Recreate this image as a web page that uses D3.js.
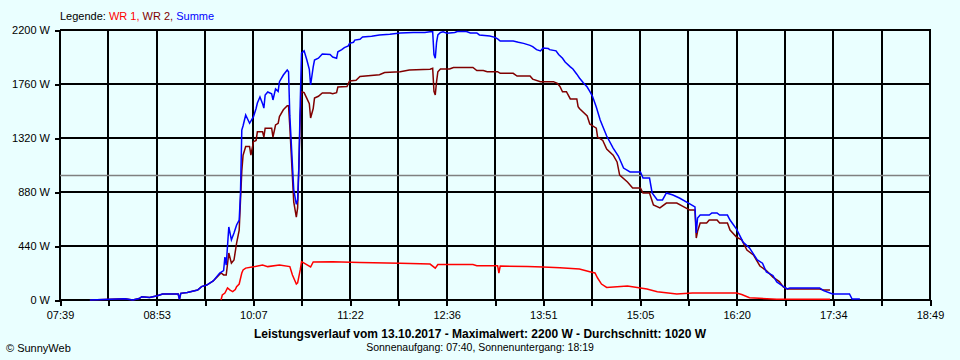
<!DOCTYPE html>
<html>
<head>
<meta charset="utf-8">
<script src="https://cdn.jsdelivr.net/npm/d3@7"></script>
<style>
  body { margin: 0; background: #eaffff; }
  svg { display: block; font-family: "Liberation Sans", Arial, sans-serif; }
</style>
</head>
<body>
<script>
var summe = [
  ["08:02",0],["08:29",10],["08:35",0],["08:40",12],["08:42",27],["08:48",20],["08:54",35],["08:58",49],
  ["09:10",49],["09:11",5],["09:12",54],["09:17",62],["09:25",81],["09:28",109],["09:32",122],["09:37",155],
  ["09:42",220],["09:45",240],["09:46",350],["09:47",285],["09:49",595],["09:51",490],["09:53",546],["09:55",611],
  ["09:57",650],["09:58",870],["09:59",1385],["10:00",1420],["10:02",1507],["10:05",1440],["10:08",1494],["10:10",1560],
  ["10:11",1605],["10:13",1654],["10:15",1600],["10:16",1564],["10:17",1670],["10:19",1695],["10:22",1680],["10:23",1630],
  ["10:25",1720],["10:27",1700],["10:28",1779],["10:31",1833],["10:34",1874],["10:35",1860],["10:36",1500],["10:38",1100],
  ["10:39",900],["10:41",780],["10:42",815],["10:43",1100],["10:44",1600],["10:45",2012],["10:47",2030],["10:49",1960],
  ["10:51",1880],["10:52",1752],["10:54",1900],["10:55",1955],["10:58",1970],["11:01",2004],["11:07",2000],["11:09",1980],
  ["11:12",1970],["11:13",2023],["11:16",2040],["11:18",2057],["11:21",2070],["11:22",2091],["11:25",2100],["11:26",2118],
  ["11:30",2125],["11:32",2143],["11:39",2150],["11:45",2160],["11:53",2165],["12:01",2176],["12:11",2180],["12:20",2180],
  ["12:24",2186],["12:26",2186],["12:27",2000],["12:28",1970],["12:29",2100],["12:30",2160],["12:32",2180],["12:34",2186],
  ["12:37",2173],["12:43",2180],["12:45",2188],["12:52",2188],["12:55",2176],["13:00",2176],["13:02",2160],["13:10",2151],
  ["13:14",2140],["13:16",2127],["13:18",2110],["13:28",2110],["13:32",2100],["13:36",2091],["13:41",2075],["13:43",2064],
  ["13:46",2040],["13:49",2029],["13:51",2053],["13:55",2050],["13:56",2040],["14:01",2030],["14:03",2000],["14:06",1970],
  ["14:08",1939],["14:12",1900],["14:14",1882],["14:17",1840],["14:19",1809],["14:22",1770],["14:25",1735],["14:27",1700],
  ["14:29",1662],["14:32",1572],["14:35",1467],["14:40",1336],["14:45",1238],["14:49",1173],["14:53",1075],["14:58",1043],
  ["15:06",1043],["15:08",994],["15:13",994],["15:15",872],["15:19",815],["15:23",815],["15:26",872],["15:31",855],
  ["15:36",831],["15:43",790],["15:48",758],["15:49",546],["15:50",668],["15:52",692],["15:59",692],["16:01",709],
  ["16:05",709],["16:07",692],["16:13",692],["16:15",652],["16:20",578],["16:25",473],["16:30",424],["16:36",326],
  ["16:40",300],["16:43",228],["16:48",200],["16:51",147],["16:56",110],["16:59",90],["17:01",98],["17:24",98],
  ["17:27",76],["17:34",49],["17:47",49],["17:49",8],["17:55",8]
];

var wr2 = [
  ["08:02",0],["08:29",10],["08:35",0],["08:40",12],["08:42",27],["08:48",20],["08:54",35],["08:58",49],
  ["09:10",49],["09:11",5],["09:12",54],["09:17",62],["09:25",81],["09:28",109],["09:32",122],["09:37",155],
  ["09:43",220],["09:45",204],["09:47",204],["09:49",383],["09:51",300],["09:53",326],["09:55",464],["09:57",570],
  ["09:58",815],["09:59",1050],["10:00",1180],["10:02",1250],["10:05",1250],["10:06",1180],["10:08",1290],["10:10",1300],
  ["10:11",1370],["10:15",1370],["10:16",1328],["10:17",1400],["10:22",1400],["10:23",1328],["10:25",1426],["10:27",1440],
  ["10:28",1495],["10:31",1550],["10:34",1583],["10:35",1583],["10:36",1410],["10:38",1000],["10:39",800],["10:41",676],
  ["10:42",750],["10:43",1100],["10:44",1500],["10:45",1697],["10:47",1690],["10:49",1645],["10:51",1600],["10:52",1483],
  ["10:54",1560],["10:55",1645],["10:58",1660],["11:01",1687],["11:07",1687],["11:09",1680],["11:12",1690],["11:13",1735],
  ["11:20",1740],["11:22",1785],["11:27",1790],["11:30",1821],["11:45",1835],["11:49",1854],["12:01",1860],["12:08",1874],
  ["12:24",1880],["12:26",1888],["12:27",1700],["12:28",1670],["12:29",1780],["12:30",1860],["12:32",1882],["12:39",1882],
  ["12:42",1895],["12:57",1895],["13:00",1870],["13:05",1870],["13:08",1860],["13:16",1860],["13:18",1847],["13:28",1847],
  ["13:31",1825],["13:41",1825],["13:43",1800],["13:49",1779],["13:59",1779],["14:02",1765],["14:04",1740],["14:06",1697],
  ["14:09",1697],["14:12",1638],["14:17",1638],["14:18",1575],["14:19",1560],["14:25",1500],["14:27",1434],["14:32",1400],
  ["14:33",1328],["14:37",1300],["14:40",1230],["14:45",1180],["14:48",1125],["14:50",1018],["14:56",961],["15:00",913],
  ["15:06",913],["15:08",872],["15:13",872],["15:16",774],["15:21",750],["15:26",790],["15:34",790],["15:44",733],
  ["15:48",733],["15:49",505],["15:50",560],["15:52",627],["15:57",627],["15:59",652],["16:05",652],["16:07",627],
  ["16:13",627],["16:15",570],["16:20",513],["16:24",490],["16:28",407],["16:33",367],["16:38",277],["16:43",240],
  ["16:48",187],["16:53",150],["16:56",106],["16:59",90],["17:24",90],["17:27",81],["17:32",81]
];

var wr1 = [
  ["09:43",0],["09:44",41],["09:46",57],["09:48",98],["09:50",80],["09:52",68],["09:54",85],["09:55",109],
  ["09:57",130],["09:59",220],["10:00",245],["10:02",260],["10:08",270],["10:15",285],["10:19",272],["10:28",285],
  ["10:36",272],["10:38",204],["10:41",130],["10:42",140],["10:44",245],["10:45",312],["10:47",300],["10:52",269],
  ["10:54",310],["11:09",312],["11:30",305],["12:01",300],["12:24",293],["12:28",260],["12:30",289],["12:57",289],
  ["13:00",280],["13:16",280],["13:17",220],["13:18",277],["13:39",272],["13:51",269],["14:04",262],["14:19",253],
  ["14:27",231],["14:31",220],["14:33",179],["14:36",130],["14:40",102],["14:56",114],["15:11",90],["15:19",68],
  ["15:34",49],["15:46",57],["16:20",57],["16:24",45],["16:30",19],["16:51",6],["17:32",6]
];

var yTicks = [0, 440, 880, 1320, 1760, 2200];
var xLabels = ["07:39","08:53","10:07","11:22","12:36","13:51","15:05","16:20","17:34","18:49"];
var durchschnitt = 1020;

var w = 960;
var h = 360;

var parseTime = d3.timeParse("%H:%M");

var svg = d3.select("body")
            .append("svg")
            .attr("width", w)
            .attr("height", h);

svg.append("rect")
    .attr("width", w)
    .attr("height", h)
    .attr("fill", "#eaffff");

var x = d3.scaleTime()
          .domain([parseTime(xLabels[0]), parseTime(xLabels[xLabels.length - 1])])
          .range([60, 930]);

var y = d3.scaleLinear()
          .domain([0, 2200])
          .range([300, 30]);

// 18 Rasterfelder, jedes zweite beschriftet
var t0 = x.domain()[0].getTime(), t1 = x.domain()[1].getTime();
var gridTimes = d3.range(19).map(function(i) { return new Date(t0 + (t1 - t0) * i / 18); });

var grid = svg.append("g").attr("shape-rendering", "crispEdges");

grid.selectAll("line.v")
    .data(gridTimes)
    .enter()
    .append("line")
    .attr("class", "v")
    .attr("x1", function(d) { return Math.round(x(d)); })
    .attr("x2", function(d) { return Math.round(x(d)); })
    .attr("y1", y(2200))
    .attr("y2", y(0))
    .attr("stroke", "#000")
    .attr("stroke-width", 2);

grid.selectAll("line.h")
    .data(yTicks)
    .enter()
    .append("line")
    .attr("class", "h")
    .attr("x1", 60)
    .attr("x2", 931)
    .attr("y1", function(d) { return y(d); })
    .attr("y2", function(d) { return y(d); })
    .attr("stroke", "#000")
    .attr("stroke-width", 2);

// Durchschnittslinie
svg.append("line")
    .attr("x1", 60)
    .attr("x2", 930)
    .attr("y1", Math.round(y(durchschnitt)) + 0.5)
    .attr("y2", Math.round(y(durchschnitt)) + 0.5)
    .attr("stroke", "#808080")
    .attr("stroke-width", 1.5);

var xAxis = d3.axisBottom(x)
              .tickValues(gridTimes)
              .tickSize(6)
              .tickPadding(5)
              .tickFormat(function(d, i) { return i % 2 ? "" : xLabels[i / 2]; });

var yAxis = d3.axisLeft(y)
              .tickValues(yTicks)
              .tickSize(5)
              .tickPadding(5)
              .tickFormat(function(d) { return d + " W"; });

var gx = svg.append("g")
    .attr("transform", "translate(0," + y(0) + ")")
    .call(xAxis);

var gy = svg.append("g")
    .attr("transform", "translate(60,0)")
    .call(yAxis);

[gx, gy].forEach(function(g) {
    g.select(".domain").remove();
    g.selectAll(".tick line")
        .attr("stroke", "#000")
        .attr("stroke-width", 2)
        .attr("shape-rendering", "crispEdges");
    g.selectAll(".tick text")
        .attr("fill", "#000")
        .style("font-size", "11px")
        .style("font-family", "Liberation Sans, Arial, sans-serif");
});

var line = d3.line()
             .x(function(d) { return x(parseTime(d[0])); })
             .y(function(d) { return y(d[1]); });

var series = [
    { data: wr1, color: "#ff0000" },
    { data: wr2, color: "#800000" },
    { data: summe, color: "#0000ff" }
];

svg.selectAll("path.serie")
    .data(series)
    .enter()
    .append("path")
    .attr("class", "serie")
    .attr("d", function(d) { return line(d.data); })
    .attr("fill", "none")
    .attr("stroke", function(d) { return d.color; })
    .attr("stroke-width", 1.5)
    .attr("stroke-linejoin", "miter");

// Legende
var legend = svg.append("text")
    .attr("x", 60)
    .attr("y", 20)
    .style("font-size", "11px");
legend.append("tspan").attr("fill", "#000").text("Legende: ");
legend.append("tspan").attr("fill", "#ff0000").text("WR 1, ");
legend.append("tspan").attr("fill", "#800000").text("WR 2, ");
legend.append("tspan").attr("fill", "#0000ff").text("Summe");

svg.append("text")
    .attr("x", 480)
    .attr("y", 338)
    .attr("text-anchor", "middle")
    .style("font-size", "12px")
    .style("font-weight", "bold")
    .text("Leistungsverlauf vom 13.10.2017 - Maximalwert: 2200 W - Durchschnitt: " + durchschnitt + " W");

svg.append("text")
    .attr("x", 480)
    .attr("y", 351)
    .attr("text-anchor", "middle")
    .style("font-size", "10.5px")
    .text("Sonnenaufgang: 07:40, Sonnenuntergang: 18:19");

svg.append("text")
    .attr("x", 6)
    .attr("y", 352)
    .style("font-size", "11px")
    .text("\u00a9 SunnyWeb");
</script>
</body>
</html>
